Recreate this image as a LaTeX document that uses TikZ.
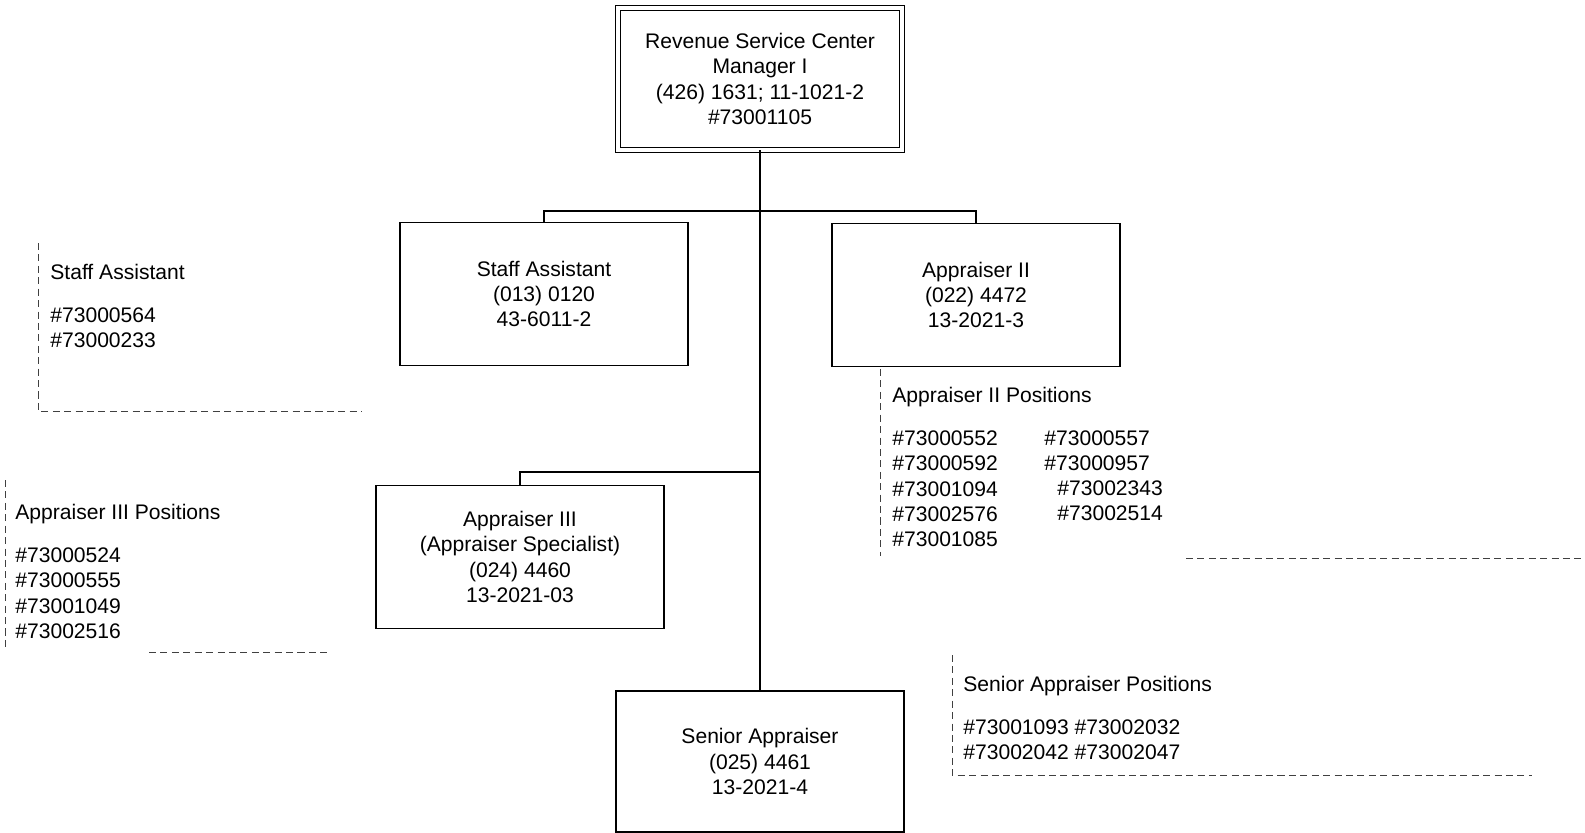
\documentclass[tikz,border=0pt]{standalone}
\usepackage{fontspec}
\setmainfont{Liberation Sans}
\usetikzlibrary{positioning}

\begin{document}
\begin{tikzpicture}[
  every node/.style={font=\fontsize{12}{14.4}\selectfont},
  post/.style={draw, line width=0.8pt, minimum width=5.76cm,
    minimum height=2.86cm, align=center, inner sep=2pt},
  note/.style={align=left, anchor=north west, inner sep=0pt},
  frame/.style={dash pattern=on 4pt off 2.5pt, line width=0.5pt, black!75},
  link/.style={line width=0.8pt}]
  \useasboundingbox (0,0) rectangle (31.7,-16.66);

  % posts
  \node[post, double, double distance=2.4pt, line width=0.6pt,
    minimum width=5.69cm, minimum height=2.83cm] (mgr) at (15.20,-1.58)
    {Revenue Service Center\\ Manager I\\ (426) 1631; 11-1021-2\\ \#73001105};
  \node[post] (staff) at (10.88,-5.88) {Staff Assistant\\ (013) 0120\\ 43-6011-2};
  \node[post] (app2) at (19.52,-5.90) {Appraiser II\\ (022) 4472\\ 13-2021-3};
  \node[post] (app3) at (10.40,-11.14)
    {Appraiser III\\ (Appraiser Specialist)\\ (024) 4460\\ 13-2021-03};
  \node[post, minimum height=2.82cm] (senior) at (15.20,-15.23)
    {Senior Appraiser\\ (025) 4461\\ 13-2021-4};

  \coordinate (bus) at (15.20,-4.22);
  \coordinate (bus3) at (15.20,-9.44);
  \draw[link] (mgr) -- (senior);
  \draw[link] (staff.north) |- (bus) -| (app2.north);
  \draw[link] (app3.north) |- (bus3);

  % position lists
  \node[note] (staffpos) at (1.00,-5.28)
    {Staff Assistant\\[10pt] \#73000564\\ \#73000233};
  \draw[frame] (0.76,-4.86) -- (0.76,-8.22) -- (7.24,-8.22);

  \node[note] (app3pos) at (0.30,-10.08)
    {Appraiser III Positions\\[10pt] \#73000524\\ \#73000555\\ \#73001049\\ \#73002516};
  \draw[frame] (0.10,-9.60) -- (0.10,-13.00);
  \draw[frame] (2.98,-13.04) -- (6.54,-13.04);

  \node[note] (app2pos) at (17.84,-7.74)
    {Appraiser II Positions\\[10pt] \#73000552\\ \#73000592\\ \#73001094\\
     \#73002576\\ \#73001085};
  \node[note] (app2more) at (20.88,-8.60)
    {\#73000557\\ \#73000957\\ \hspace*{0.26cm}\#73002343\\ \hspace*{0.26cm}\#73002514};
  \draw[frame] (17.60,-7.38) -- (17.60,-11.12);
  \draw[frame] (23.72,-11.16) -- (31.70,-11.16);

  \node[note] (seniorpos) at (19.26,-13.52)
    {Senior Appraiser Positions\\[10pt] \#73001093 \#73002032\\ \#73002042 \#73002047};
  \draw[frame] (19.04,-13.10) -- (19.04,-15.50) -- (30.64,-15.50);
\end{tikzpicture}
\end{document}
